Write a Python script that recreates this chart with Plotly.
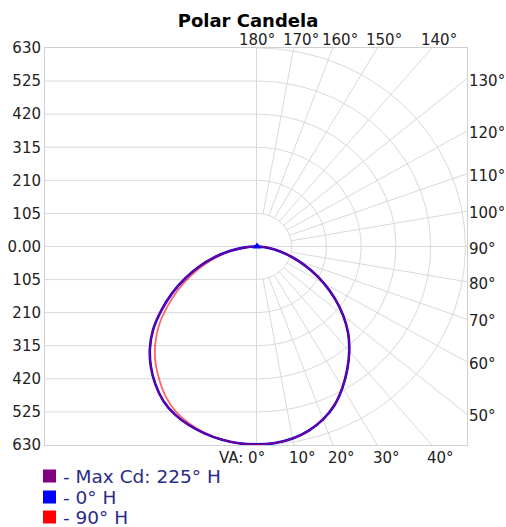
import numpy as np
import plotly.graph_objects as go

# ---------------- data ----------------
vertical_angles = [0, 5, 10, 15, 20, 25, 30, 35, 40, 45, 50, 55, 60, 65, 70, 75, 80, 85, 90]
# right half (0° H plane, also 90° H and 225° H which coincide there)
cd_0H = [628, 626, 619, 605, 584, 555, 517, 476, 434, 390, 340, 287, 233, 181, 133, 90, 54, 24, 0]
cd_90H = [628, 626, 619, 605, 584, 555, 517, 476, 434, 390, 340, 287, 233, 181, 133, 90, 54, 24, 0]
cd_225H = [628, 626, 619, 605, 584, 555, 517, 476, 434, 390, 340, 287, 233, 181, 133, 90, 54, 24, 0]
# left half (opposite planes)
cd_180H = [628, 627, 622, 614, 603, 588, 566, 535, 499, 458, 410, 353, 296, 240, 186, 134, 84, 40, 0]
cd_270H = [628, 627, 622, 612, 598, 579, 551, 515, 478, 435, 386, 330, 275, 222, 171, 122, 76, 36, 0]
cd_45H = [628, 627, 622, 614, 603, 588, 566, 535, 499, 458, 410, 353, 296, 240, 186, 134, 84, 40, 0]

ring_values = [105, 210, 315, 420, 525, 630]
y_tick_values = [-630, -525, -420, -315, -210, -105, 0, 105, 210, 315, 420, 525, 630]
y_tick_labels = ["630", "525", "420", "315", "210", "105", "0.00", "105", "210", "315", "420", "525", "630"]
spoke_angles = [0, 10, 20, 30, 40, 50, 60, 70, 80, 90, 100, 110, 120, 130, 140, 150, 160, 170, 180]

series_names = ["- Max Cd: 225° H", "- 0° H", "- 90° H"]
series_colors = ["#800080", "#0000ff", "#ff0000"]

# ---------------- layout constants ----------------
W, H = 506, 527
L, R, T, B = 45, 467, 48, 445
XR = [-641, 635]
YR = [-630, 630]
GRID = "#d9d9d9"
FONT = "DejaVu Sans"


def px2paper(px, py):
    return (px - L) / (R - L), (B - py) / (B - T)


def curve(left, right):
    th = np.radians(vertical_angles)
    l = np.array(left, float)
    r = np.array(right, float)
    x = np.concatenate([(-l * np.sin(th))[::-1], (r * np.sin(th))[1:]])
    y = np.concatenate([(-l * np.cos(th))[::-1], (-r * np.cos(th))[1:]])
    return x, y


fig = go.Figure()

# horizontal grid on the left half
for v in y_tick_values[1:-1]:
    fig.add_trace(go.Scatter(x=[XR[0], 0 if v != 0 else XR[1]], y=[v, v], mode="lines",
                             line=dict(color=GRID, width=1), hoverinfo="skip", showlegend=False))

# polar rings on the right half
t = np.radians(np.linspace(0, 180, 181))
for rv in ring_values:
    fig.add_trace(go.Scatter(x=rv * np.sin(t), y=-rv * np.cos(t), mode="lines",
                             line=dict(color=GRID, width=1), hoverinfo="skip", showlegend=False))

# spokes
label_info = []
for a in spoke_angles:
    th = np.radians(a)
    s, c = np.sin(th), np.cos(th)
    cand = []
    if s > 1e-9:
        cand.append(XR[1] / s)
    if abs(c) > 1e-9:
        cand.append(YR[1] / abs(c))
    tt = min(cand)
    ex, ey = tt * s, -tt * c
    r0 = ring_values[0]
    if 0 < a < 180:
        fig.add_trace(go.Scatter(x=[r0 * s, ex], y=[-r0 * c, ey], mode="lines",
                                 line=dict(color=GRID, width=1), hoverinfo="skip", showlegend=False))
    label_info.append((a, ex, ey))

# candela curves
x225, y225 = curve(cd_45H, cd_225H)
x0, y0 = curve(cd_180H, cd_0H)
x90, y90 = curve(cd_270H, cd_90H)
fig.add_trace(go.Scatter(x=x90, y=y90, mode="lines", line=dict(color="#ff0000", width=1.8, shape="spline"),
                         opacity=0.6, hoverinfo="skip", showlegend=False))
fig.add_trace(go.Scatter(x=x0, y=y0, mode="lines", line=dict(color="#0000ff", width=2.6, shape="spline"),
                         hoverinfo="skip", showlegend=False))
fig.add_trace(go.Scatter(x=x225, y=y225, mode="lines", line=dict(color="#800080", width=1.4, shape="spline"),
                         hoverinfo="skip", showlegend=False))
fig.add_trace(go.Scatter(x=[x0[0]], y=[y0[0]], mode="markers",
                         marker=dict(symbol="triangle-up", size=8, color="#0000ff"),
                         hoverinfo="skip", showlegend=False))

annotations = []
for a, ex, ey in label_info:
    if a == 0:
        annotations.append(dict(x=0, y=YR[0], xref="x", yref="y", text="VA: 0°", showarrow=False,
                                xanchor="right", yanchor="top", xshift=10, yshift=-2))
    elif a == 180:
        annotations.append(dict(x=0, y=YR[1], xref="x", yref="y", text="180°", showarrow=False,
                                xanchor="center", yanchor="bottom", yshift=-3))
    elif ey <= YR[0] + 1e-6:
        annotations.append(dict(x=ex, y=ey, xref="x", yref="y", text=f"{a}°", showarrow=False,
                                xanchor="center", yanchor="top", xshift=9, yshift=-2))
    elif ey >= YR[1] - 1e-6:
        annotations.append(dict(x=ex, y=ey, xref="x", yref="y", text=f"{a}°", showarrow=False,
                                xanchor="center", yanchor="bottom", xshift=7, yshift=-3))
    else:
        annotations.append(dict(x=ex, y=ey, xref="x", yref="y", text=f"{a}°", showarrow=False,
                                xanchor="left", yanchor="middle", xshift=0, yshift=-2))
for an in annotations:
    an["font"] = dict(family=FONT, size=15, color="#222222")

# manual legend
shapes = []
row_y = [476, 497, 517]
for name, col, ry in zip(series_names, series_colors, row_y):
    x0p, y0p = px2paper(43, ry - 6.5)
    x1p, y1p = px2paper(56, ry + 6.5)
    shapes.append(dict(type="rect", xref="paper", yref="paper", x0=x0p, x1=x1p, y0=y1p, y1=y0p,
                       fillcolor=col, line=dict(width=0)))
    tx, ty = px2paper(61, ry)
    annotations.append(dict(x=tx, y=ty, xref="paper", yref="paper", text=name, showarrow=False,
                            xanchor="left", yanchor="middle",
                            font=dict(family=FONT, size=18.5, color="#2b2b88")))

fig.update_layout(
    width=W, height=H,
    margin=dict(l=L, r=W - R, t=T, b=H - B, pad=0, autoexpand=False),
    paper_bgcolor="white", plot_bgcolor="white",
    title=dict(text="<b>Polar Candela</b>", x=248 / W, xanchor="center", y=1 - 21 / H, yanchor="middle",
               font=dict(family=FONT, size=18, color="#000000")),
    xaxis=dict(range=XR, showgrid=False, zeroline=True, zerolinecolor=GRID, zerolinewidth=1,
               showticklabels=False, ticks="", showline=True, mirror=True, linecolor="#d0d0d0", linewidth=1,
               fixedrange=True, automargin=False),
    yaxis=dict(range=YR, showgrid=False, zeroline=False, tickvals=y_tick_values, ticktext=y_tick_labels,
               ticks="", showline=True, mirror=True, linecolor="#d0d0d0", linewidth=1,
               tickfont=dict(family=FONT, size=15, color="#222222"), fixedrange=True, automargin=False),
    annotations=annotations,
    shapes=shapes,
    showlegend=False,
)

fig.write_html("out.html", config={"displayModeBar": False},
               post_script="document.body.style.margin='0px';document.body.style.overflow='hidden';")
